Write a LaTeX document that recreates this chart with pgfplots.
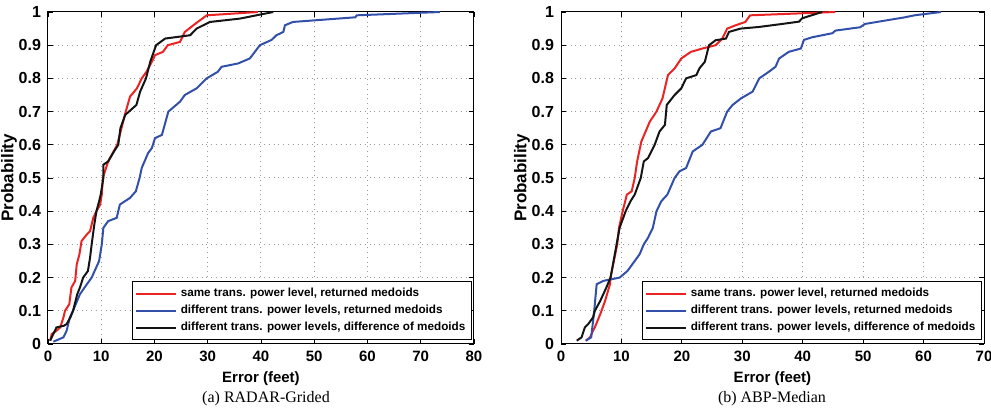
\documentclass[border=0pt]{standalone}
\usepackage{fontspec}
\setmainfont{Liberation Sans}
\newfontfamily\capfont{Liberation Serif}
\usepackage{pgfplots}
\pgfplotsset{compat=1.18}
\definecolor{cRed}{RGB}{235,35,35}
\definecolor{cBlue}{RGB}{50,80,170}
\definecolor{cBlack}{RGB}{20,20,20}
\pgfplotsset{
  cdfaxis/.style={
    scale only axis, height=166pt,
    ymin=0, ymax=1, ytick={0,0.1,...,1},
    xlabel={Error (feet)}, ylabel={Probability},
    tick align=inside, major tick length=2.5pt,
    tick style={black, line width=0.4pt},
    grid=major, grid style={dotted, gray!80, line width=0.5pt},
    axis line style={line width=0.5pt},
    xticklabel style={font=\fontsize{7.5}{8}\selectfont\bfseries},
    yticklabel style={font=\fontsize{8}{9}\selectfont\bfseries},
    /pgf/number format/assume math mode=true,
    xlabel style={font=\fontsize{7.5}{8}\selectfont\bfseries, yshift=2pt},
    ylabel style={font=\fontsize{8.5}{9}\selectfont\bfseries, yshift=-6pt},
    legend cell align=left,
    legend style={at={(rel axis cs:0.995,0.012)}, anchor=south east,
      font=\fontsize{5.85}{6.5}\selectfont\bfseries, draw=black,
      line width=0.5pt, inner sep=1pt, row sep=-1.2pt},
    legend image code/.code={\draw[#1, line width=1pt] (0pt,0pt) -- (20pt,0pt);},
    every axis plot/.append style={line width=1pt},
  }
}
\begin{document}
\begin{tikzpicture}
\useasboundingbox (0,0) rectangle (495.5pt,208.5pt);
% ---------------------------------------------------------------- (a)
\begin{axis}[cdfaxis, at={(24pt,36.5pt)}, anchor=south west, width=213pt,
             xmin=0, xmax=80, xtick={0,10,...,80}]
  \addplot[cRed] coordinates {(0.4,0.01)(0.7,0.03)(1.6,0.04)(2.3,0.05)(2.9,0.08)(3.2,0.1)(4.0,0.12)(4.4,0.17)(5.1,0.19)(5.4,0.24)(5.9,0.27)(6.3,0.31)(7.3,0.33)(7.9,0.34)(8.5,0.38)(9.1,0.40)(9.8,0.42)(10.1,0.45)(10.3,0.5)(11.3,0.55)(13.0,0.6)(13.8,0.65)(14.6,0.7)(15.4,0.745)(16.7,0.77)(17.6,0.8)(18.5,0.82)(19.5,0.85)(20.1,0.87)(21.6,0.88)(22.5,0.9)(24.8,0.91)(25.7,0.94)(27.3,0.96)(29.8,0.99)(39.4,1.0)};
  \addplot[cBlue] coordinates {(1.0,0.007)(2.9,0.02)(3.5,0.04)(4.1,0.08)(4.7,0.1)(6.0,0.15)(7.3,0.18)(8.2,0.2)(9.6,0.25)(10.1,0.3)(10.4,0.35)(11.3,0.37)(12.9,0.38)(13.5,0.42)(15.4,0.44)(16.5,0.46)(17.2,0.5)(17.6,0.53)(18.8,0.575)(19.5,0.59)(20.1,0.62)(21.4,0.63)(22.6,0.7)(24.8,0.73)(25.7,0.75)(27.9,0.77)(29.8,0.8)(31.9,0.82)(32.6,0.835)(35.7,0.845)(37.9,0.86)(39.8,0.9)(42.0,0.916)(42.9,0.93)(44.2,0.94)(44.5,0.96)(46.0,0.97)(57.7,0.984)(58.0,0.99)(73.6,1.0)};
  \addplot[cBlack] coordinates {(0.4,0.01)(1.0,0.03)(1.6,0.05)(3.0,0.055)(3.5,0.06)(4.2,0.08)(4.7,0.1)(5.5,0.15)(6.0,0.17)(6.6,0.2)(7.5,0.22)(7.9,0.26)(8.2,0.3)(8.7,0.36)(9.1,0.4)(9.6,0.43)(9.9,0.45)(10.4,0.5)(10.4,0.54)(11.3,0.55)(12.4,0.58)(13.2,0.6)(13.6,0.65)(14.5,0.69)(15.2,0.7)(16.6,0.72)(17.3,0.76)(18.4,0.8)(19.2,0.85)(20.3,0.9)(22.0,0.92)(26.7,0.93)(27.9,0.95)(30.4,0.97)(36,0.98)(42.3,1.0)};
  \legend{{same trans. power level, returned medoids},
          {different trans. power levels, returned medoids},
          {different trans. power levels, difference of medoids}}
\end{axis}
% ---------------------------------------------------------------- (b)
\begin{axis}[cdfaxis, at={(280.5pt,36.5pt)}, anchor=south west, width=211.5pt,
             xmin=0, xmax=70, xtick={0,10,...,70}]
  \addplot[cRed] coordinates {(4.1,0.01)(4.8,0.02)(5.3,0.04)(5.6,0.05)(6.5,0.09)(7.3,0.13)(8.1,0.18)(8.2,0.2)(9.3,0.3)(9.6,0.35)(10.2,0.4)(10.9,0.45)(11.7,0.46)(12.2,0.5)(12.6,0.55)(13.3,0.61)(14.0,0.64)(14.7,0.67)(15.8,0.7)(16.8,0.74)(17.7,0.81)(18.8,0.83)(19.9,0.86)(21.5,0.88)(23.4,0.89)(25.6,0.9)(26.7,0.92)(27.5,0.95)(28.9,0.96)(30.5,0.97)(31.3,0.99)(45.4,1.0)};
  \addplot[cBlue] coordinates {(4.1,0.01)(5.0,0.02)(5.5,0.1)(5.9,0.18)(7.0,0.19)(9.7,0.2)(11.0,0.22)(12.2,0.25)(13.0,0.27)(13.7,0.3)(14.4,0.32)(15.2,0.35)(15.8,0.4)(16.6,0.43)(17.6,0.45)(18.8,0.5)(19.6,0.52)(20.7,0.53)(21.8,0.58)(23.4,0.6)(24.8,0.64)(26.4,0.65)(27.5,0.7)(28.4,0.72)(29.8,0.74)(31.7,0.76)(32.8,0.8)(34.4,0.82)(35.5,0.835)(36.1,0.86)(37.7,0.88)(39.7,0.89)(40.2,0.916)(41.6,0.924)(44.9,0.936)(45.4,0.944)(49.5,0.954)(50.3,0.964)(52.6,0.971)(56.9,0.984)(58.5,0.99)(62.9,1.0)};
  \addplot[cBlack] coordinates {(2.6,0.01)(3.4,0.02)(3.95,0.05)(4.5,0.06)(5.3,0.08)(5.6,0.1)(6.5,0.13)(7.5,0.17)(8.2,0.2)(9.2,0.3)(9.7,0.35)(10.7,0.4)(11.5,0.43)(12.2,0.45)(13.2,0.5)(13.7,0.55)(14.4,0.56)(15.5,0.6)(16.3,0.64)(17.2,0.66)(17.5,0.72)(18.8,0.75)(19.9,0.77)(20.7,0.8)(22.4,0.81)(22.9,0.83)(23.8,0.85)(24.5,0.9)(25.6,0.915)(27.3,0.92)(27.8,0.94)(29.7,0.95)(32.8,0.955)(36.6,0.964)(39.4,0.971)(39.9,0.981)(43.2,1.0)};
  \legend{{same trans. power level, returned medoids},
          {different trans. power levels, returned medoids},
          {different trans. power levels, difference of medoids}}
\end{axis}
\node[font=\capfont\fontsize{8}{9}\selectfont] at (133pt,9pt) {(a) RADAR-Grided};
\node[font=\capfont\fontsize{8}{9}\selectfont] at (386pt,9pt) {(b) ABP-Median};
\end{tikzpicture}
\end{document}
